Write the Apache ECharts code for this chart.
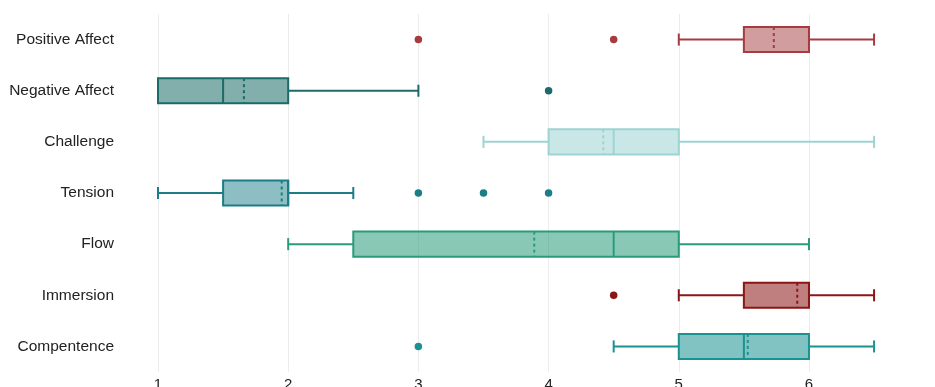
<!DOCTYPE html>
<html>
<head>
<meta charset="utf-8">
<script src="https://cdn.jsdelivr.net/npm/echarts@6/dist/echarts.min.js"></script>
<style>html,body{margin:0;padding:0;background:#fff}#c{width:935px;height:387px}</style>
</head>
<body>
<div id="c"></div>
<script>
const categories = ['Positive Affect','Negative Affect','Challenge','Tension','Flow','Immersion','Compentence'];
const whiskerLow  = [5,   1,   3.5, 1,   2,   5,   4.5];
const q1          = [5.5, 1,   4,   1.5, 2.5, 5.5, 5];
const median      = [6,   1.5, 4.5, 2,   4.5, 6,   5.5];
const q3          = [6,   2,   5,   2,   5,   6,   6];
const whiskerHigh = [6.5, 3,   6.5, 2.5, 6,   6.5, 6.5];
const means       = [5.73, 1.66, 4.42, 1.95, 3.89, 5.91, 5.53];
const outliers    = [[3, 4.5], [4], [], [3, 3.5, 4], [], [4.5], [3]];
const xTicks      = [1, 2, 3, 4, 5, 6];

const strokes = ['#a63c40','#1c6b68','#9ed3d3','#1b7d88','#2a9b7a','#8c1616','#1a9292'];
const fills   = ['rgba(166,60,64,0.5)','rgba(28,107,104,0.55)','rgba(158,211,211,0.55)','rgba(27,125,136,0.5)','rgba(42,155,122,0.55)','rgba(140,22,22,0.55)','rgba(26,146,146,0.55)'];

const boxData = categories.map((c, i) => [i, whiskerLow[i], q1[i], median[i], q3[i], whiskerHigh[i], means[i]]);
const outData = [];
outliers.forEach((arr, i) => arr.forEach(v => outData.push({value: [v, i], itemStyle: {color: strokes[i], opacity: 1}})));

const chart = echarts.init(document.getElementById('c'), null, {renderer: 'canvas'});
chart.setOption({
  animation: false,
  grid: {left: 158, right: 0, top: 14, bottom: 15, containLabel: false, outerBoundsMode: 'none'},
  xAxis: {
    type: 'value', min: 1, max: 6.968, interval: 1,
    axisLine: {show: false}, axisTick: {show: false},
    axisLabel: {color: '#222', fontSize: 15, fontFamily: 'Liberation Sans, Arial', margin: 5,
      showMaxLabel: false,
      formatter: v => xTicks.indexOf(v) >= 0 ? String(v) : ''},
    splitLine: {show: true, lineStyle: {color: '#ececec', width: 1}}
  },
  yAxis: {
    type: 'category', data: categories, inverse: true,
    axisLine: {show: false}, axisTick: {show: false},
    axisLabel: {color: '#222', fontSize: 15.5, fontFamily: 'Liberation Sans, Arial', margin: 44},
    splitLine: {show: false}
  },
  series: [
    {
      type: 'custom',
      data: boxData,
      encode: {x: [1,2,3,4,5,6], y: 0},
      renderItem: function (params, api) {
        const i = api.value(0);
        const band = api.size([0, 1])[1];
        const hb = band * 0.245;
        const hc = band * 0.118;
        const pL = api.coord([api.value(1), i]);
        const p1 = api.coord([api.value(2), i]);
        const pM = api.coord([api.value(3), i]);
        const p3 = api.coord([api.value(4), i]);
        const pH = api.coord([api.value(5), i]);
        const pA = api.coord([api.value(6), i]);
        const y = pM[1];
        const st = strokes[i];
        const lw = 2;
        return {
          type: 'group',
          children: [
            {type: 'line', shape: {x1: pL[0], y1: y, x2: p1[0], y2: y}, style: {stroke: st, lineWidth: lw}},
            {type: 'line', shape: {x1: p3[0], y1: y, x2: pH[0], y2: y}, style: {stroke: st, lineWidth: lw}},
            {type: 'line', shape: {x1: pL[0], y1: y - hc, x2: pL[0], y2: y + hc}, style: {stroke: st, lineWidth: lw}},
            {type: 'line', shape: {x1: pH[0], y1: y - hc, x2: pH[0], y2: y + hc}, style: {stroke: st, lineWidth: lw}},
            {type: 'rect', shape: {x: p1[0], y: y - hb, width: p3[0] - p1[0], height: hb * 2}, style: {fill: fills[i], stroke: st, lineWidth: lw}},
            {type: 'line', shape: {x1: pM[0], y1: y - hb, x2: pM[0], y2: y + hb}, style: {stroke: st, lineWidth: lw}},
            {type: 'line', shape: {x1: pA[0], y1: y - hb, x2: pA[0], y2: y + hb}, style: {stroke: st, lineWidth: lw, lineDash: [3, 3]}}
          ]
        };
      }
    },
    {
      type: 'scatter',
      data: outData,
      symbol: 'circle',
      symbolSize: 7.5,
      itemStyle: {opacity: 1}
    }
  ]
});
</script>
</body>
</html>
